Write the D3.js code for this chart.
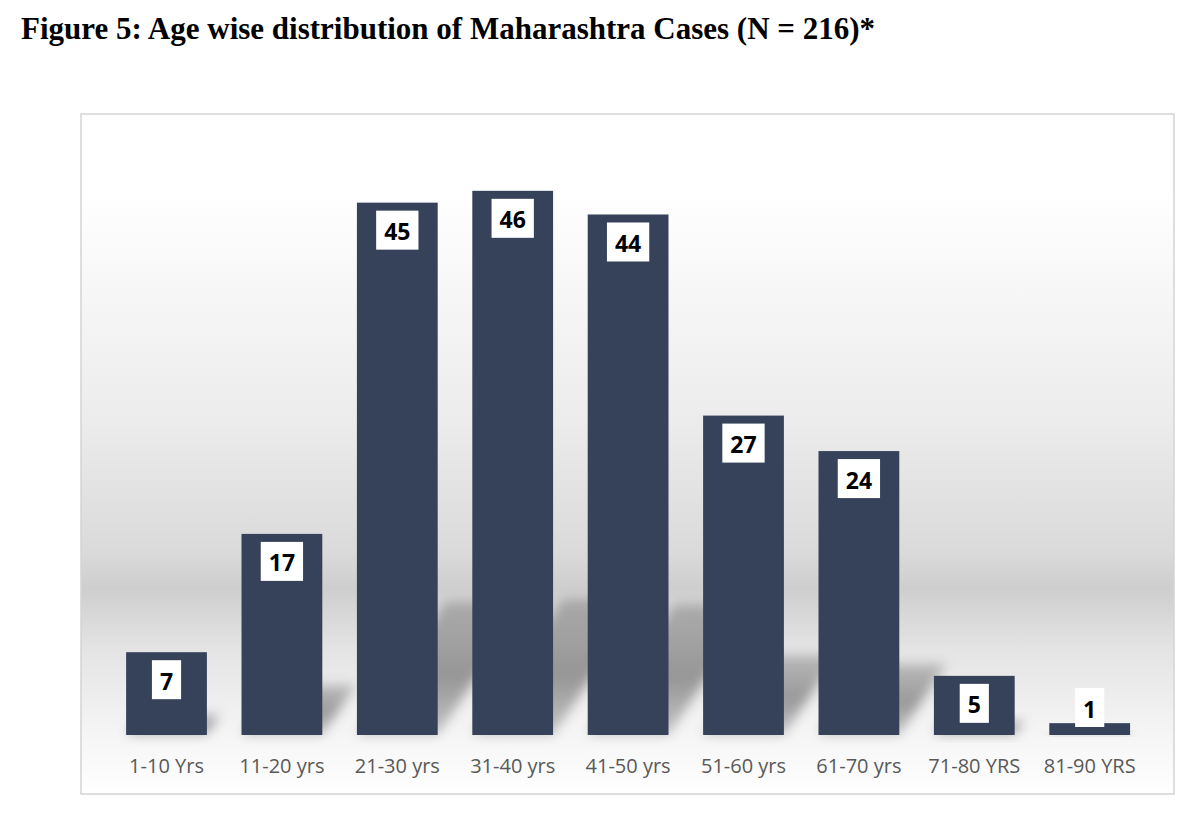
<!DOCTYPE html>
<html>
<head>
<meta charset="utf-8">
<script src="https://cdn.jsdelivr.net/npm/d3@7"></script>
<style>
  body { margin: 0; background: #fff; }
  svg { display: block; }
</style>
</head>
<body>
<svg id="chart" width="1200" height="831"></svg>
<script>
// categories and counts
const ageGroups = ["1-10 Yrs", "11-20 yrs", "21-30 yrs", "31-40 yrs", "41-50 yrs",
                   "51-60 yrs", "61-70 yrs", "71-80 YRS", "81-90 YRS"];
const cases = [7, 17, 45, 46, 44, 27, 24, 5, 1];
const titleText = "Figure 5: Age wise distribution of Maharashtra Cases (N = 216)*";

const barColor = "#364259";
const frame = {left: 81, top: 114, right: 1174, bottom: 794};
const baseY = 735;
const bgTop = 190;

const svg = d3.select("#chart");

// title
svg.append("text")
  .attr("x", 21)
  .attr("y", 39)
  .attr("font-family", "'Liberation Serif', 'Times New Roman', serif")
  .attr("font-weight", "bold")
  .attr("font-size", "31px")
  .attr("fill", "#000")
  .text(titleText);

const defs = svg.append("defs");

// plot area background: white top, grey band low down, white again near the axis
const bgStops = [
  [0, "#ffffff"], [0.12, "#f9f9f9"], [0.38, "#ececec"], [0.6, "#dadada"],
  [0.66, "#cecece"], [0.76, "#e4e4e4"], [0.9, "#f5f5f5"], [1, "#ffffff"]
];
defs.append("linearGradient")
  .attr("id", "bgGrad")
  .attr("x1", 0).attr("y1", 0).attr("x2", 0).attr("y2", 1)
  .selectAll("stop")
  .data(bgStops)
  .join("stop")
    .attr("offset", d => d[0])
    .attr("stop-color", d => d[1]);

const blur = defs.append("filter")
  .attr("id", "shadowBlur")
  .attr("x", "-50%").attr("y", "-50%").attr("width", "200%").attr("height", "200%");
blur.append("feGaussianBlur").attr("stdDeviation", 6);

const shGrad = defs.append("linearGradient")
  .attr("id", "shadowGrad")
  .attr("x1", 0).attr("y1", 1).attr("x2", 0).attr("y2", 0);
shGrad.append("stop").attr("offset", "0%").attr("stop-color", "#000").attr("stop-opacity", 0.2);
shGrad.append("stop").attr("offset", "45%").attr("stop-color", "#000").attr("stop-opacity", 0.36);
shGrad.append("stop").attr("offset", "100%").attr("stop-color", "#000").attr("stop-opacity", 0.2);

svg.append("rect")
  .attr("x", frame.left)
  .attr("y", bgTop)
  .attr("width", frame.right - frame.left)
  .attr("height", frame.bottom - bgTop)
  .attr("fill", "url(#bgGrad)");

svg.append("rect")
  .attr("x", frame.left)
  .attr("y", frame.top)
  .attr("width", frame.right - frame.left)
  .attr("height", frame.bottom - frame.top)
  .attr("fill", "none")
  .attr("stroke", "#d4d4d4")
  .attr("stroke-width", 1.5);

// scales
const x = d3.scaleBand()
  .domain(ageGroups)
  .range([91.5, 1164.7])
  .paddingInner(0.3)
  .paddingOuter(0.3);

const y = d3.scaleLinear()
  .domain([0, 50])
  .range([baseY, baseY - 50 * 11.83]);

const data = ageGroups.map((g, i) => ({group: g, value: cases[i]}));

// perspective shadows falling up and to the right
svg.append("g")
  .selectAll("path")
  .data(data)
  .join("path")
    .attr("d", d => {
      const x0 = x(d.group), x1 = x0 + x.bandwidth();
      const h = baseY - y(d.value);
      const dy = 0.25 * h, dx = dy / 1.5;
      return `M${x0},${baseY}L${x1},${baseY}L${x1 + dx},${baseY - dy}L${x0 + dx},${baseY - dy}Z`;
    })
    .attr("fill", "url(#shadowGrad)")
    .attr("filter", "url(#shadowBlur)");

// bars
svg.append("g")
  .selectAll("rect")
  .data(data)
  .join("rect")
    .attr("x", d => x(d.group))
    .attr("y", d => y(d.value))
    .attr("width", x.bandwidth())
    .attr("height", d => baseY - y(d.value))
    .attr("fill", barColor);

// x axis labels
const xAxis = svg.append("g")
  .attr("transform", `translate(0,${baseY})`)
  .call(d3.axisBottom(x).tickSize(0).tickPadding(24));
xAxis.select(".domain").remove();
xAxis.selectAll("text")
  .attr("font-family", "'Open Sans', sans-serif")
  .attr("font-size", "20px")
  .attr("fill", "#595959");

// value labels in white boxes
const labels = svg.append("g")
  .selectAll("g")
  .data(data)
  .join("g");

labels.append("rect").attr("fill", "#fff");
labels.append("text")
  .attr("font-family", "'Open Sans', sans-serif")
  .attr("font-weight", "bold")
  .attr("font-size", "23px")
  .attr("fill", "#000")
  .attr("text-anchor", "middle")
  .attr("dominant-baseline", "central")
  .text(d => d.value);

labels.each(function(d) {
  const g = d3.select(this);
  const tw = g.select("text").node().getComputedTextLength();
  const bw = tw + 16, bh = 39;
  const cx = x(d.group) + x.bandwidth() / 2;
  const top = Math.min(y(d.value) + 8, baseY - 47);
  g.select("rect")
    .attr("x", cx - bw / 2)
    .attr("y", top)
    .attr("width", bw)
    .attr("height", bh);
  g.select("text")
    .attr("x", cx)
    .attr("y", top + bh / 2 + 1);
});
</script>
</body>
</html>
